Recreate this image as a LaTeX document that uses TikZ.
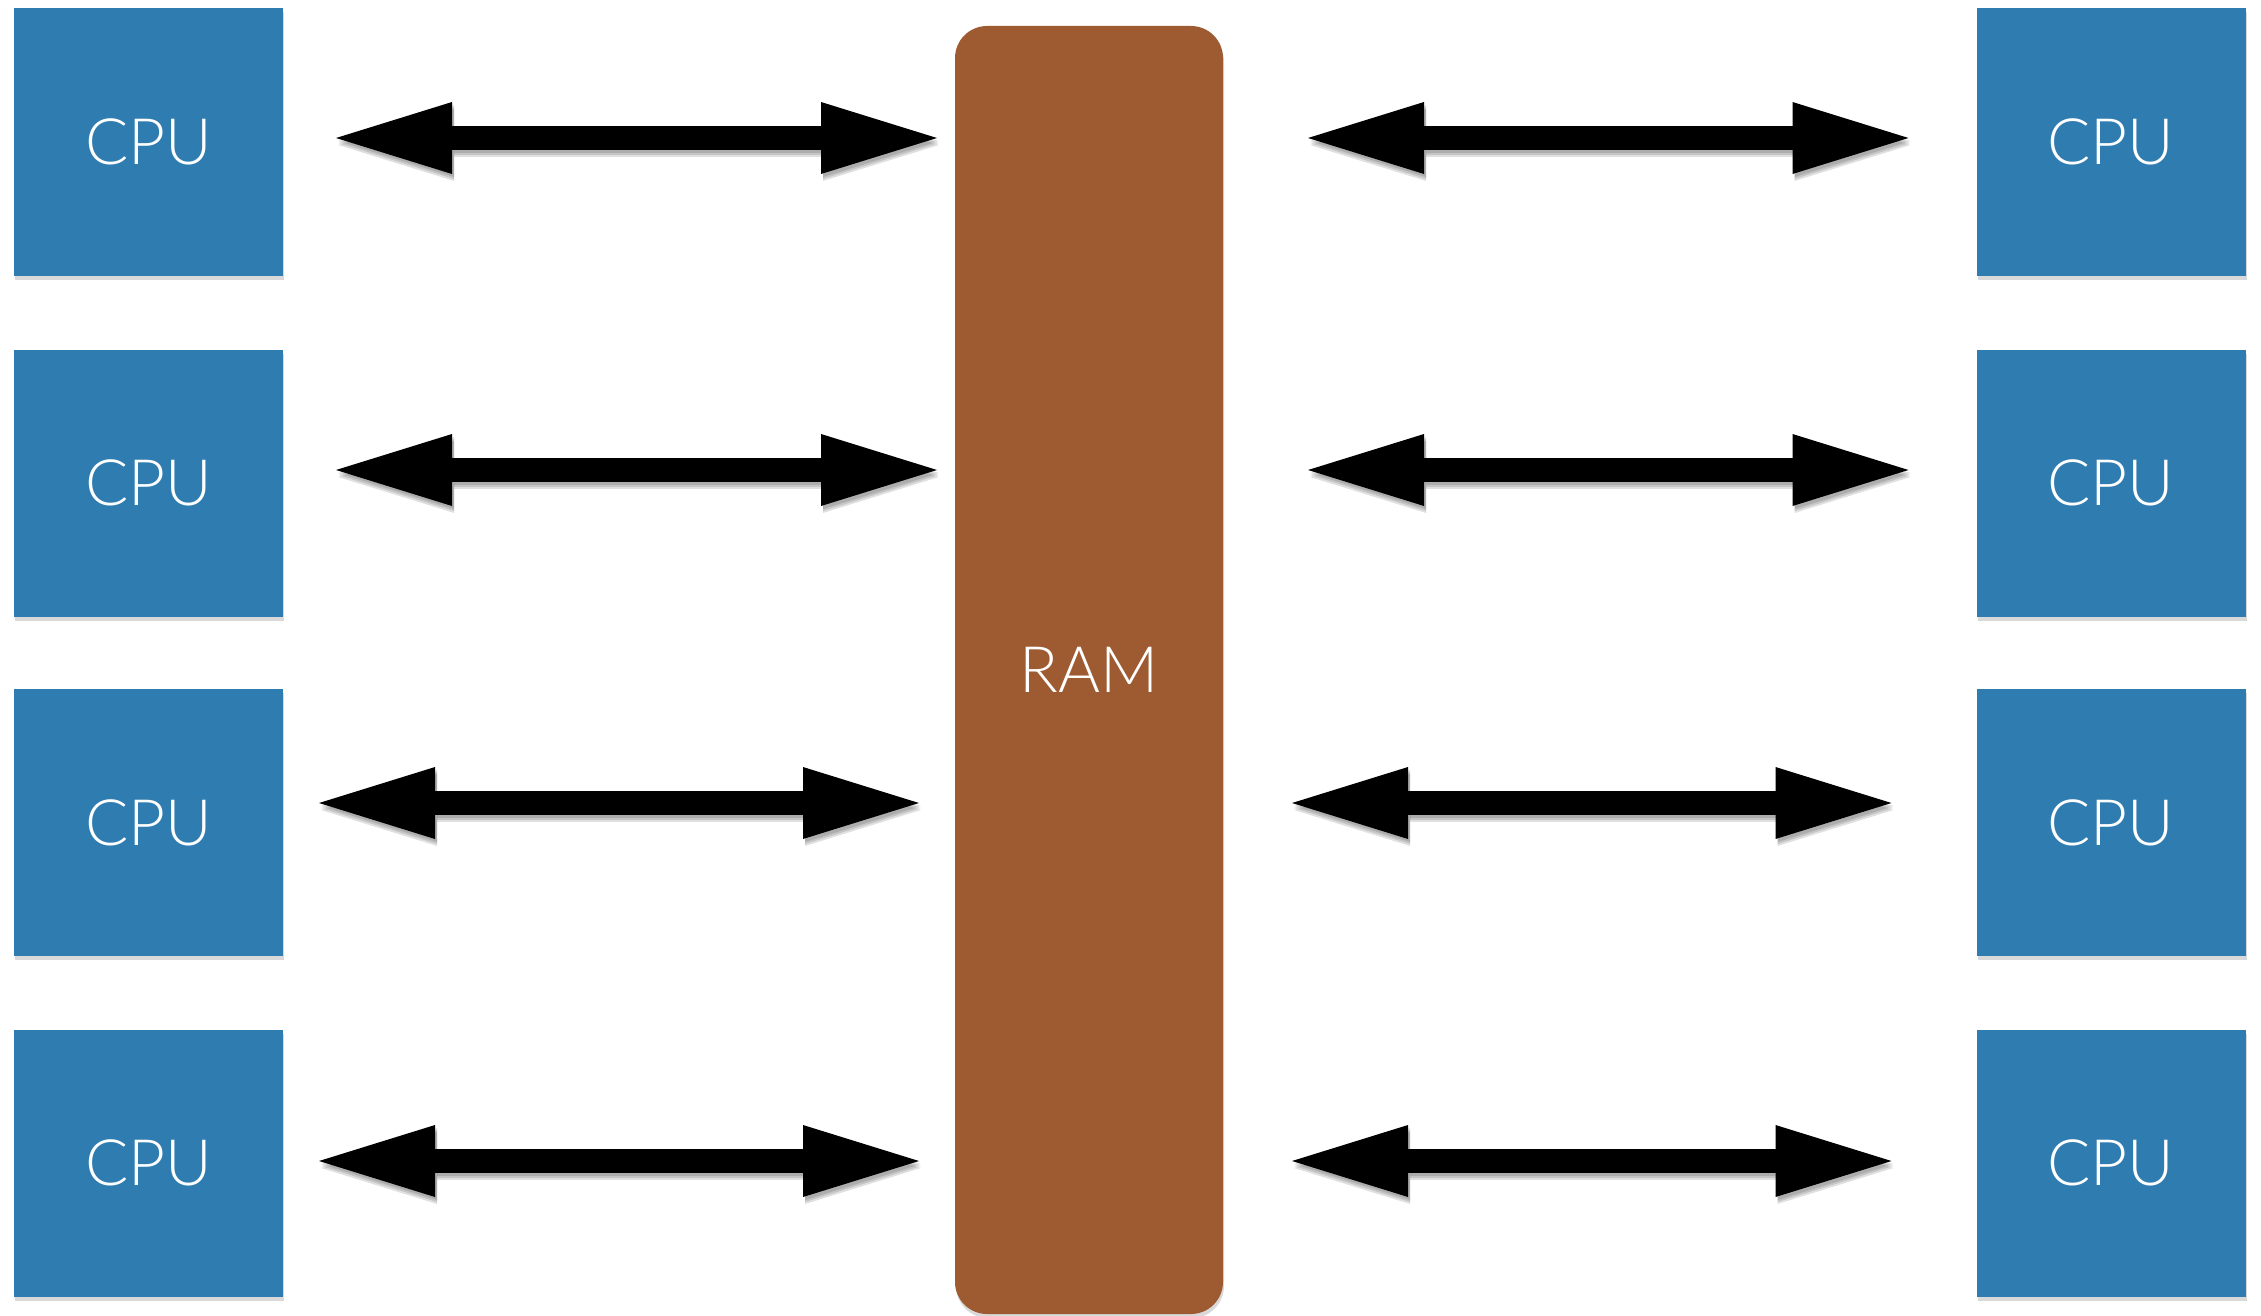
\documentclass[tikz,border=0pt]{standalone}
\usepackage{fontspec}
\newfontfamily\lightfont{Lato Light}
\usetikzlibrary{arrows.meta,shadows}
\definecolor{cpublue}{RGB}{46,124,176}
\definecolor{rambrown}{RGB}{158,91,50}
\begin{document}
\begin{tikzpicture}[x=1pt,y=-1pt,
  cpubox/.style={fill=cpublue,minimum width=269pt,minimum height=267pt,inner sep=0pt,outer sep=0pt,
    text=white,font=\lightfont\fontsize{64}{72}\selectfont,
    drop shadow={shadow xshift=1pt,shadow yshift=-4pt,opacity=0.3}},
  rambox/.style={fill=rambrown,minimum width=268pt,minimum height=1288pt,inner sep=0pt,outer sep=0pt,
    rounded corners=32pt,text=white,font=\lightfont\fontsize{64}{72}\selectfont,
    drop shadow={shadow xshift=1pt,shadow yshift=-4pt,opacity=0.3}},
  bustip/.tip={Triangle[length=116pt,width=72pt,line width=0pt]},
  bus/.style={line width=24pt,{bustip}-{bustip}},
  busshadow/.style={bus,draw=black,opacity=0.12,transform canvas={xshift=2pt,yshift=-#1pt}}
]
\useasboundingbox (0,0) rectangle (2261,1316);
% CPUs left
\node[cpubox] (L1) at (148.5,142) {CPU};
\node[cpubox] (L2) at (148.5,483) {CPU};
\node[cpubox] (L3) at (148.5,822.5) {CPU};
\node[cpubox] (L4) at (148.5,1163) {CPU};
% CPUs right
\node[cpubox] (R1) at (2111,142) {CPU};
\node[cpubox] (R2) at (2111,483) {CPU};
\node[cpubox] (R3) at (2111,822.5) {CPU};
\node[cpubox] (R4) at (2111,1163) {CPU};
% RAM
\node[rambox] (ram) at (1089,670) {RAM};
% buses left
\foreach \n/\y/\a/\b in {L1/138/53/18, L2/470/53/18, L3/803/36/36, L4/1161/36/36}{
  \foreach \s in {3,5,7}{
    \draw[busshadow=\s,shorten <=\a pt,shorten >=\b pt] (\n.east |- 0,\y) -- (ram.west |- 0,\y);
  }
  \draw[bus,shorten <=\a pt,shorten >=\b pt] (\n.east |- 0,\y) -- (ram.west |- 0,\y);
}
% buses right
\foreach \n/\y/\a/\b in {R1/138/85/68, R2/470/85/68, R3/803/69/85, R4/1161/69/85}{
  \foreach \s in {3,5,7}{
    \draw[busshadow=\s,shorten <=\a pt,shorten >=\b pt] (ram.east |- 0,\y) -- (\n.west |- 0,\y);
  }
  \draw[bus,shorten <=\a pt,shorten >=\b pt] (ram.east |- 0,\y) -- (\n.west |- 0,\y);
}
\end{tikzpicture}
\end{document}
